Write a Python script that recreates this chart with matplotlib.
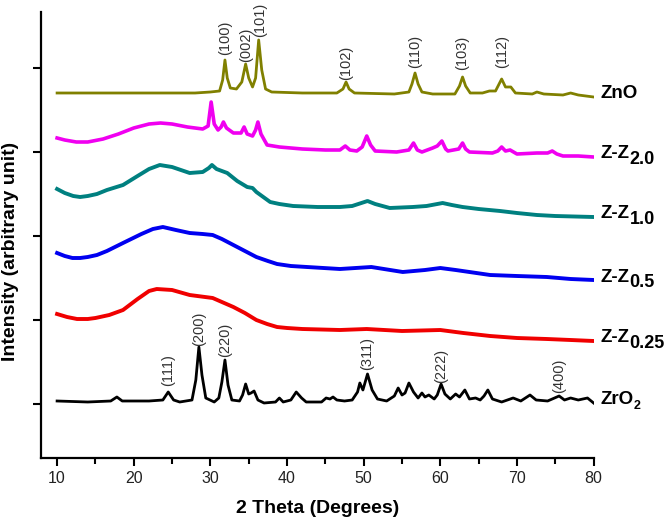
import matplotlib
matplotlib.use("Agg")
import matplotlib.pyplot as plt
from matplotlib.ticker import MultipleLocator

plt.rcParams["font.family"] = ["Liberation Sans", "DejaVu Sans"]

# 2 theta (deg) / intensity (arbitrary, already offset per sample)
zno_x = [10, 20, 28, 30, 31.2, 31.6, 31.9, 32.2, 32.6, 33.4, 34.1, 34.6, 35.0,
         35.5, 35.9, 36.3, 36.7, 37.2, 38, 42, 46.5, 47.3, 47.7, 48.1, 48.8,
         54, 55.9, 56.3, 56.7, 57.1, 57.6, 59, 61.9, 62.5, 62.9, 63.3, 63.9,
         65.5, 66.4, 67.2, 67.6, 68.0, 68.5, 69.2, 69.8, 72, 72.6, 73.5, 76,
         77, 78, 80]
zno_y = [311, 311, 311, 312, 313, 324, 344, 326, 316, 315, 322, 340, 326,
         317, 326, 364, 334, 315, 312, 311, 311, 315, 322, 315, 311,
         310, 312, 320, 331, 320, 312, 310, 310, 318, 327, 318, 311,
         311, 313, 313, 319, 325, 317, 317, 311, 310, 312, 310, 309,
         311, 309, 307]

zz20_x = [10, 11, 12.5, 14, 16, 18, 20, 22, 23.5, 25, 27, 29, 29.7, 30.1,
          30.5, 31, 31.4, 31.7, 32.1, 33, 34.0, 34.4, 34.8, 35.5, 35.9, 36.2,
          36.6, 37.4, 39, 42, 45, 46.9, 47.6, 48.2, 49.1, 49.8, 50.4, 50.9,
          51.5, 54.3, 55.9, 56.5, 57.0, 57.6, 59, 59.6, 60.2, 60.7, 61, 62.4,
          62.9, 63.3, 63.8, 66.8, 67.5, 68, 68.5, 69.1, 70, 72.6, 74.0, 74.6,
          75.2, 76, 78, 80]
zz20_y = [266, 264, 262, 262, 265, 270, 276, 280, 281, 280, 277, 275, 278, 302,
          280, 274, 277, 282, 276, 271, 271, 277, 270, 268, 274, 282,
          270, 259, 257, 255, 254, 254, 258, 254, 253, 257, 268, 259,
          253, 252, 254, 261, 254, 252, 256, 258, 263, 255, 253, 255,
          261, 255, 252, 251, 253, 257, 253, 254, 250, 251, 251, 253,
          250, 248, 248, 247]

zz10_x = [10, 11, 12.1, 13, 14, 15.2, 16.5, 18.6, 20.5, 22, 23.4, 25, 27.3,
          29, 29.8, 30.2, 30.8, 32.2, 33.5, 34.8, 35.5, 36, 37.8, 39, 40.8,
          44, 46.9, 48.5, 50.5, 51.5, 53.4, 56.4, 58.2, 60.3, 61.5, 62.9, 65,
          67.8, 70, 72.6, 75, 80]
zz10_y = [215, 211, 208, 207, 208, 210, 214, 219, 228, 235, 239, 237, 231,
          232, 236, 239, 235, 231, 223, 217, 216, 212, 202, 200, 198,
          197, 197, 198, 203, 200, 196, 197, 198, 201, 199, 197, 195,
          193, 191, 189, 188, 187]

zz05_x = [10, 11, 12, 13, 14, 15.2, 16.5, 18.6, 21, 22.5, 23.8, 25.5, 27.3,
          29, 30.3, 31.5, 33, 34.5, 36, 37.5, 38.7, 40.5, 42.6, 46.9, 51,
          55.1, 58, 60, 62, 66.5, 70, 73.9, 77, 80]
zz05_y = [151, 148, 146, 146, 147, 149, 153, 161, 170, 175, 177, 174, 171,
          170, 169, 165, 159, 153, 147, 143, 140, 138, 137, 135, 137,
          132, 134, 136, 134, 129, 128, 127, 125, 124]

zz025_x = [10, 11.3, 12.6, 14, 15, 16.8, 18.6, 20.5, 22, 23, 25, 27.3, 30.3,
           31.5, 33, 34.5, 36, 37.4, 38.7, 40, 42, 46.9, 50.4, 55, 60, 63,
           66.5, 70, 73.9, 77, 80]
zz025_y = [90, 87, 85, 85, 86, 89, 94, 105, 113, 115, 114, 109, 106,
           102, 97, 91, 84, 80, 77, 76, 75, 74, 75, 73, 74, 71,
           68, 66, 65, 64, 63]

zro2_x = [10, 14, 17, 17.8, 18.5, 22, 23.8, 24.5, 25.2, 26, 27.6, 28.1, 28.5,
          28.9, 29.4, 30.5, 31.1, 31.5, 31.9, 32.3, 32.8, 33.8, 34.2, 34.6,
          35.0, 35.3, 35.7, 36.2, 37, 38.5, 39, 39.5, 40.5, 41.2, 41.9, 42.5,
          44.5, 45.1, 45.6, 46.0, 46.5, 47.5, 48.5, 49.2, 49.5, 49.9, 50.5,
          51.1, 51.8, 53, 54, 54.5, 55.0, 55.4, 55.9, 56.5, 57.1, 57.6, 58.0,
          58.5, 59.2, 59.6, 60.1, 60.6, 61.3, 62.0, 62.5, 63.2, 63.8, 64.6,
          65.2, 65.7, 66.2, 66.8, 68, 69.5, 70.5, 71.7, 72.5, 74, 75.5, 76.2,
          77, 78, 79.2, 80]
zro2_y = [3, 2, 3, 7, 3, 3, 4, 12, 4, 2, 4, 24, 57,
          29, 6, 2, 6, 22, 44, 19, 4, 3, 9, 20,
          10, 11, 13, 4, 1, 2, 6, 2, 4, 12, 6, 2,
          2, 6, 5, 7, 4, 3, 4, 12, 21, 14, 30,
          14, 5, 3, 8, 16, 9, 11, 21, 12, 6, 11, 7,
          9, 5, 9, 20, 10, 5, 10, 7, 14, 5, 6,
          4, 8, 14, 5, 2, 6, 3, 9, 4, 3, 8, 4,
          6, 4, 6, 1]

series = [
    ("ZnO", None, zno_x, zno_y, "#808000", 2.0),
    ("Z-Z", "2.0", zz20_x, zz20_y, "#f000f0", 2.6),
    ("Z-Z", "1.0", zz10_x, zz10_y, "#008080", 2.8),
    ("Z-Z", "0.5", zz05_x, zz05_y, "#0000f0", 2.8),
    ("Z-Z", "0.25", zz025_x, zz025_y, "#f00000", 2.8),
    ("ZrO", "2", zro2_x, zro2_y, "#000000", 2.0),
]

zno_hkl = ["(100)", "(002)", "(101)", "(102)", "(110)", "(103)", "(112)"]
zno_hkl_x = [31.9, 34.6, 36.5, 47.7, 56.7, 62.9, 68.0]
zno_hkl_y = [349, 342, 367, 324, 336, 334, 336]
zro2_hkl = ["(111)", "(200)", "(220)", "(311)", "(222)", "(400)"]
zro2_hkl_x = [24.5, 28.5, 31.9, 50.5, 60.1, 75.5]
zro2_hkl_y = [18, 58, 47, 34, 21, 11]

fig = plt.figure(figsize=(6.66, 5.23), dpi=100)
ax = fig.add_axes([41 / 666, 1 - 458 / 523, 553 / 666, 446 / 523])

for name, sub, xs, ys, color, lw in series:
    ax.plot(xs, ys, color=color, lw=lw, solid_joinstyle="round")
    t = ax.text(80.85, ys[-1] + 3, name, fontsize=13.5, fontweight="bold",
                va="center", ha="left", clip_on=False)
    if sub is not None:
        size = 9 if sub == "2" else 13
        ax.annotate(sub, xy=(1, 0), xycoords=t, xytext=(0.3, 2),
                    textcoords="offset points", fontsize=size,
                    fontweight="bold", va="center", ha="left",
                    annotation_clip=False)

for lab, x, y in zip(zno_hkl + zro2_hkl, zno_hkl_x + zro2_hkl_x,
                     zno_hkl_y + zro2_hkl_y):
    ax.text(x, y, lab, rotation=90, ha="center", va="bottom",
            fontsize=10.5, color="#333333")

ax.set_xlim(7.9, 80.05)
ax.set_ylim(-54, 392)
ax.set_xticks([10, 20, 30, 40, 50, 60, 70, 80])
ax.xaxis.set_minor_locator(MultipleLocator(5))
ax.set_yticks([0, 84, 168, 252, 336])
ax.set_yticklabels([])

for side in ["top", "right"]:
    ax.spines[side].set_visible(False)
for side in ["left", "bottom"]:
    ax.spines[side].set_linewidth(1.6)

ax.tick_params(axis="both", which="major", direction="out", length=6,
               width=1.5, labelsize=11.5, pad=3.5, labelcolor="#222222")
ax.tick_params(axis="x", which="minor", direction="out", length=4, width=1.5)

ax.set_xlabel("2 Theta (Degrees)", fontsize=14, fontweight="bold", va="top")
ax.xaxis.set_label_coords(0.5, -0.094)
ax.set_ylabel("Intensity (arbitrary unit)", fontsize=14, fontweight="bold")
ax.yaxis.set_label_coords(-0.039, 0.464)

fig.savefig("out.png", dpi=100)
